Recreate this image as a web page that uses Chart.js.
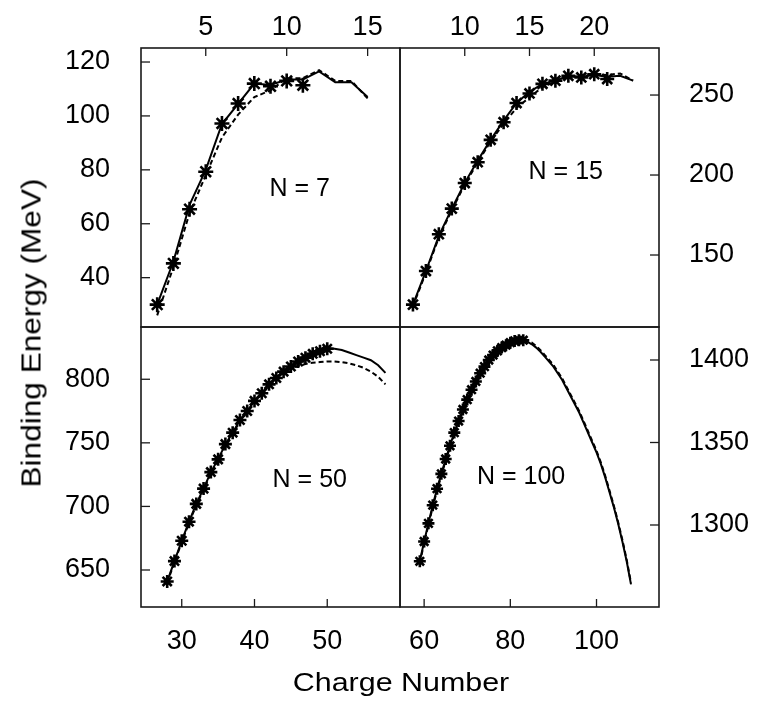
<!DOCTYPE html>
<html>
<head>
<meta charset="utf-8">
<script src="https://cdn.jsdelivr.net/npm/chart.js@4.4.0/dist/chart.umd.min.js"></script>
<style>
  html, body { margin: 0; padding: 0; background: #fff; }
  #fig { position: relative; width: 761px; height: 703px; overflow: hidden; }
  #fig canvas { position: absolute; }
  .title { position: absolute; font-family: 'Liberation Sans', Arial, sans-serif; font-size: 26px; color: #000; white-space: nowrap; }
  #ytitle { left: 32px; top: 333px; font-size: 27px; transform: translate(-50%, -50%) rotate(-90deg) scaleX(1.17); }
  #xtitle { left: 401px; top: 682px; transform: translate(-50%, -50%) scaleX(1.17); }
</style>
</head>
<body>
<div id="fig">
  <canvas id="tl" width="402" height="329" style="left:0;top:0"></canvas>
  <canvas id="tr" width="363" height="329" style="left:398px;top:0"></canvas>
  <canvas id="bl" width="402" height="378" style="left:0;top:325px"></canvas>
  <canvas id="br" width="363" height="378" style="left:398px;top:325px"></canvas>
  <div class="title" id="ytitle">Binding Energy (MeV)</div>
  <div class="title" id="xtitle">Charge Number</div>
</div>
<script>
// N = 7 panel
const n7Z = [2, 3, 4, 5, 6, 7, 8, 9, 10, 11, 12, 13, 14, 15];
const n7Solid = [30, 46, 67, 80, 97, 104.5, 112, 111.5, 113.5, 113.5, 116.5, 112.5, 112.5, 107];
const n7Dashed = [26, 44, 64, 78, 92, 100.5, 107, 109.5, 114, 114, 117, 113, 113, 106.5];
const n7ExpZ = [2, 3, 4, 5, 6, 7, 8, 9, 10, 11];
const n7Exp = [30, 45.3, 65.4, 79.3, 97.2, 104.6, 112, 111, 113, 111.4];

// N = 15 panel
const n15Z = [6, 7, 8, 9, 10, 11, 12, 13, 14, 15, 16, 17, 18, 19, 20, 21, 22, 23];
const n15Solid = [119, 140, 162, 179, 195, 209, 222, 234, 245, 252, 257, 259, 262, 261.5, 262.5, 261.5, 262, 259];
const n15Dashed = [118, 139, 161, 178, 194, 208, 221, 232, 242, 248.5, 255, 258.5, 261.5, 261.5, 263, 262.5, 263.5, 259];
const n15ExpZ = [6, 7, 8, 9, 10, 11, 12, 13, 14, 15, 16, 17, 18, 19, 20, 21];
const n15Exp = [119, 140, 163, 179, 195, 208, 222, 233, 245, 251, 257, 259, 262, 261, 263, 260];

// N = 50 panel
const n50Z = [28, 29, 30, 31, 32, 33, 34, 35, 36, 37, 38, 39, 40, 41, 42, 43, 44, 45, 46, 47, 48, 49, 50, 51, 52, 53, 54, 55, 56, 57, 58];
const n50Solid = [641, 657, 673, 688, 702, 714, 727, 737, 749, 758, 768, 775, 783, 789, 796, 801, 806, 810, 814, 817, 820, 822, 824.5, 824, 823, 821, 819, 817, 815, 811, 805];
const n50Dashed = [640, 656, 672, 687, 701, 713, 726, 736, 748, 757, 767, 774, 782, 788, 795, 800, 805, 808.5, 810.5, 812, 813, 813.5, 814, 814, 813.5, 812.5, 811, 809, 806, 802, 796];
const n50ExpZ = [28, 29, 30, 31, 32, 33, 34, 35, 36, 37, 38, 39, 40, 41, 42, 43, 44, 45, 46, 47, 48, 49, 50];
const n50Exp = [641, 657, 673, 688, 702, 714, 727, 737, 749, 758, 768, 775, 783, 789, 796, 801, 806, 810, 814, 817, 820, 822, 824];

// N = 100 panel
const n100Z = [59, 60, 61, 62, 63, 64, 65, 66, 67, 68, 69, 70, 71, 72, 73, 74, 75, 76, 77, 78, 79, 80, 81, 82, 83,
  84, 85, 86, 87, 88, 89, 90, 91, 92, 93, 94, 95, 96, 97, 98, 99, 100, 101, 102, 103, 104, 105, 106, 107, 108];
const n100Solid = [1278, 1290, 1301, 1312, 1322, 1331, 1340, 1348, 1356, 1363, 1370, 1376, 1382, 1387, 1392, 1396, 1400, 1403, 1405.5, 1407.5, 1409, 1410.5, 1411.5, 1412, 1412,
  1411, 1409.5, 1407.5, 1405, 1402, 1399, 1396, 1392, 1388, 1383, 1378, 1373, 1368, 1362, 1356, 1350, 1344, 1337, 1329, 1320, 1311, 1301, 1290, 1278, 1264];
const n100Dashed = [1277, 1289, 1300, 1311, 1321, 1330, 1339, 1347, 1355, 1362, 1369, 1375, 1381, 1386, 1391, 1395, 1399, 1402, 1404.5, 1406.5, 1408, 1409.5, 1410.5, 1411.5, 1412,
  1411.5, 1410.5, 1408.5, 1406, 1403, 1400, 1397, 1393, 1389, 1384, 1379, 1374, 1369, 1363, 1357, 1351, 1345, 1338, 1330, 1321, 1312, 1302, 1291, 1279, 1265];
const n100ExpZ = [59, 60, 61, 62, 63, 64, 65, 66, 67, 68, 69, 70, 71, 72, 73, 74, 75, 76, 77, 78, 79, 80, 81, 82, 83];
const n100Exp = [1278, 1290, 1301, 1312, 1322, 1331, 1340, 1348, 1356, 1363, 1370, 1376, 1382, 1387, 1392, 1396, 1400, 1403, 1405.5, 1407.5, 1409, 1410.5, 1411.5, 1412, 1412];

// tick labels
const tlXTicks = [5, 10, 15];
const tlYTicks = [40, 60, 80, 100, 120];
const trXTicks = [10, 15, 20];
const trYTicks = [150, 200, 250];
const blXTicks = [30, 40, 50];
const blYTicks = [650, 700, 750, 800];
const brXTicks = [60, 80, 100];
const brYTicks = [1300, 1350, 1400];

Chart.defaults.font.family = "'Liberation Sans', Arial, Helvetica, sans-serif";
Chart.defaults.color = '#000';

const pts = (xs, ys) => xs.map((x, i) => ({ x: x, y: ys[i] }));

// no label overhang padding, so the four plot areas butt together
function noPad(s) {
  s.paddingLeft = 0; s.paddingRight = 0; s.paddingTop = 0; s.paddingBottom = 0;
}

// frame + inward tick marks
const frameTicks = {
  id: 'frameTicks',
  afterDraw(chart) {
    const ctx = chart.ctx;
    const a = chart.chartArea;
    ctx.save();
    ctx.strokeStyle = '#1a1a1a';
    ctx.lineWidth = 1.6;
    ctx.strokeRect(a.left, a.top, a.right - a.left, a.bottom - a.top);
    ctx.lineWidth = 1.3;
    Object.values(chart.scales).forEach(s => {
      s.ticks.forEach(t => {
        const p = s.getPixelForValue(t.value);
        ctx.beginPath();
        if (s.position === 'top') { ctx.moveTo(p, a.top); ctx.lineTo(p, a.top + 8); }
        if (s.position === 'bottom') { ctx.moveTo(p, a.bottom); ctx.lineTo(p, a.bottom - 8); }
        if (s.position === 'left') { ctx.moveTo(a.left, p); ctx.lineTo(a.left + 9, p); }
        if (s.position === 'right') { ctx.moveTo(a.right, p); ctx.lineTo(a.right - 9, p); }
        ctx.stroke();
      });
    });
    ctx.restore();
  }
};

// panel label, e.g. "N = 7", placed by data coordinates
const panelLabel = {
  id: 'panelLabel',
  afterDraw(chart, args, opts) {
    const ctx = chart.ctx;
    ctx.save();
    ctx.font = "25px 'Liberation Sans', Arial, sans-serif";
    ctx.fillStyle = '#000';
    ctx.textAlign = 'center';
    ctx.textBaseline = 'middle';
    ctx.fillText(opts.text, chart.scales.x.getPixelForValue(opts.x), chart.scales.y.getPixelForValue(opts.y));
    ctx.restore();
  }
};

function makePanel(id, c) {
  new Chart(document.getElementById(id), {
    type: 'line',
    data: {
      datasets: [
        { data: pts(c.z, c.solid), borderColor: '#000', borderWidth: 2, pointRadius: 0, fill: false },
        { data: pts(c.z, c.dashed), borderColor: '#000', borderWidth: 2, borderDash: [5, 3], pointRadius: 0, fill: false },
        { data: pts(c.expZ, c.exp), showLine: false, pointStyle: 'star', pointRadius: c.star,
          pointBorderWidth: 2.6, pointBorderColor: '#000', borderColor: '#000' }
      ]
    },
    options: {
      responsive: false,
      animation: false,
      events: [],
      layout: { padding: c.padding, autoPadding: false },
      plugins: {
        legend: { display: false },
        tooltip: { enabled: false },
        panelLabel: c.label
      },
      scales: {
        x: {
          type: 'linear', position: c.xPos, min: c.xMin, max: c.xMax,
          afterBuildTicks: s => { s.ticks = c.xTicks.map(v => ({ value: v })); },
          afterFit: s => { s.height = c.xSize; noPad(s); },
          grid: { display: false, drawTicks: false },
          border: { display: false },
          ticks: { font: { size: 27 }, padding: c.xPad, maxRotation: 0, autoSkip: false, callback: v => String(v) }
        },
        y: {
          type: 'linear', position: c.yPos, min: c.yMin, max: c.yMax,
          afterBuildTicks: s => { s.ticks = c.yTicks.map(v => ({ value: v })); },
          afterFit: s => { s.width = c.ySize; noPad(s); },
          grid: { display: false, drawTicks: false },
          border: { display: false },
          ticks: { font: { size: 27 }, padding: c.yPad, autoSkip: false, callback: v => String(v) }
        }
      }
    },
    plugins: [frameTicks, panelLabel]
  });
}

makePanel('tl', {
  z: n7Z, solid: n7Solid, dashed: n7Dashed, expZ: n7ExpZ, exp: n7Exp, star: 7.5,
  xTicks: tlXTicks, yTicks: tlYTicks, xMin: 1, xMax: 17, yMin: 21.7, yMax: 125.2,
  xPos: 'top', yPos: 'left', xSize: 48, ySize: 141, xPad: 4, yPad: 31,
  padding: { left: 0, top: 0, right: 2, bottom: 2 },
  label: { text: 'N = 7', x: 10.8, y: 72.9 }
});
makePanel('tr', {
  z: n15Z, solid: n15Solid, dashed: n15Dashed, expZ: n15ExpZ, exp: n15Exp, star: 7,
  xTicks: trXTicks, yTicks: trYTicks, xMin: 5, xMax: 25, yMin: 105, yMax: 279.4,
  xPos: 'top', yPos: 'right', xSize: 48, ySize: 102, xPad: 4, yPad: 30,
  padding: { left: 2, top: 0, right: 0, bottom: 2 },
  label: { text: 'N = 15', x: 17.8, y: 202 }
});
makePanel('bl', {
  z: n50Z, solid: n50Solid, dashed: n50Dashed, expZ: n50ExpZ, exp: n50Exp, star: 6.5,
  xTicks: blXTicks, yTicks: blYTicks, xMin: 24.4, xMax: 60, yMin: 620.9, yMax: 841.1,
  xPos: 'bottom', yPos: 'left', xSize: 96, ySize: 141, xPad: 18, yPad: 31,
  padding: { left: 0, top: 2, right: 2, bottom: 0 },
  label: { text: 'N = 50', x: 47.6, y: 720.8 }
});
makePanel('br', {
  z: n100Z, solid: n100Solid, dashed: n100Dashed, expZ: n100ExpZ, exp: n100Exp, star: 6,
  xTicks: brXTicks, yTicks: brYTicks, xMin: 54.4, xMax: 114.5, yMin: 1250.3, yMax: 1420,
  xPos: 'bottom', yPos: 'right', xSize: 96, ySize: 102, xPad: 18, yPad: 30,
  padding: { left: 2, top: 2, right: 0, bottom: 0 },
  label: { text: 'N = 100', x: 82.5, y: 1329 }
});
</script>
</body>
</html>
